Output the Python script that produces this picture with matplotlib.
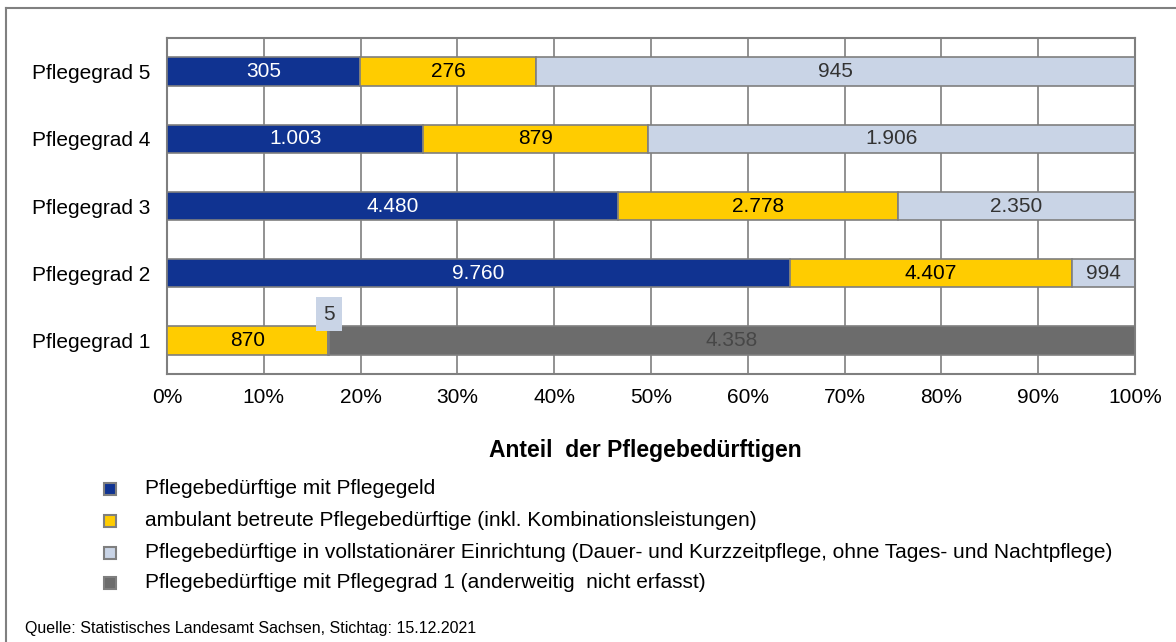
import matplotlib
matplotlib.use('Agg')
import matplotlib.pyplot as plt
from matplotlib.lines import Line2D
import numpy as np

plt.rcParams['font.family'] = ['Liberation Sans', 'DejaVu Sans']

categories = ['Pflegegrad 1', 'Pflegegrad 2', 'Pflegegrad 3', 'Pflegegrad 4', 'Pflegegrad 5']
pflegegeld = [0, 9760, 4480, 1003, 305]
ambulant = [870, 4407, 2778, 879, 276]
stationaer = [5, 994, 2350, 1906, 945]
nur_grad1 = [4358, 0, 0, 0, 0]

series_names = [
    'Pflegebedürftige mit Pflegegeld',
    'ambulant betreute Pflegebedürftige (inkl. Kombinationsleistungen)',
    'Pflegebedürftige in vollstationärer Einrichtung (Dauer- und Kurzzeitpflege, ohne Tages- und Nachtpflege)',
    'Pflegebedürftige mit Pflegegrad 1 (anderweitig  nicht erfasst)',
]
colors = ['#103391', '#ffcc00', '#c9d4e6', '#6c6c6c']
text_colors = ['white', 'black', '#333333', '#474747']
xtick_labels = ['0%', '10%', '20%', '30%', '40%', '50%', '60%', '70%', '80%', '90%', '100%']


def fmt(v):
    return '{:,}'.format(v).replace(',', '.')


data = np.array([pflegegeld, ambulant, stationaer, nur_grad1], dtype=float)
totals = data.sum(axis=0)
shares = data / totals * 100

fig = plt.figure(figsize=(11.76, 6.42), dpi=100)

# outer frame (only left and top edges inside the picture)
fig.add_artist(Line2D([6 / 1176, 6 / 1176], [0, 1 - 8 / 642], transform=fig.transFigure,
                      color='#808080', lw=1.5))
fig.add_artist(Line2D([6 / 1176, 1], [1 - 8 / 642, 1 - 8 / 642], transform=fig.transFigure,
                      color='#808080', lw=1.5))

ax = fig.add_axes([167 / 1176, 1 - 374 / 642, 968 / 1176, 336 / 642])
y = np.arange(len(categories))
left = np.zeros(len(categories))
for i in range(4):
    ax.barh(y, shares[i], left=left, height=0.42, color=colors[i],
            edgecolor='#7f7f7f', linewidth=1.2, zorder=3)
    for j in range(len(categories)):
        v = data[i, j]
        if v == 0:
            continue
        cx = left[j] + shares[i, j] / 2
        if v < 50:
            # tiny segment: label sits above the bar end
            ax.text(left[j] + shares[i, j], y[j] + 0.39, fmt(int(v)), ha='center', va='center',
                    fontsize=15, color='#333333', zorder=5,
                    bbox=dict(boxstyle='square,pad=0.35', fc=colors[i], ec='none'))
        else:
            ax.text(cx, y[j], fmt(int(v)), ha='center', va='center', fontsize=15,
                    color=text_colors[i], zorder=5)
    left = left + shares[i]

ax.set_xlim(0, 100)
ax.set_ylim(-0.5, len(categories) - 0.5)
ax.set_xticks(np.arange(0, 101, 10))
ax.set_xticklabels(xtick_labels, fontsize=15)
ax.set_yticks(y)
ax.set_yticklabels(categories, fontsize=15)
ax.tick_params(length=0)
ax.tick_params(axis='y', pad=12)
ax.tick_params(axis='x', pad=10)
ax.grid(axis='x', color='#7f7f7f', lw=1.2, zorder=0)
for s in ax.spines.values():
    s.set_color('#7f7f7f')
    s.set_linewidth(1.5)

fig.text(645 / 1176, 1 - 451 / 642, 'Anteil  der Pflegebedürftigen', ha='center', va='center',
         fontsize=16.5, fontweight='bold')

leg_y = [489, 521, 553, 583]
for i in range(4):
    fig.add_artist(Line2D([110 / 1176], [1 - leg_y[i] / 642], transform=fig.transFigure,
                          marker='s', markersize=8, markerfacecolor=colors[i],
                          markeredgecolor='#7f7f7f', markeredgewidth=1.5, linestyle='none'))
    fig.text(145 / 1176, 1 - leg_y[i] / 642, series_names[i], ha='left', va='center', fontsize=15)

fig.text(25 / 1176, 1 - 629 / 642, 'Quelle: Statistisches Landesamt Sachsen, Stichtag: 15.12.2021',
         ha='left', va='center', fontsize=11.5)

fig.savefig('out.png', dpi=100)
